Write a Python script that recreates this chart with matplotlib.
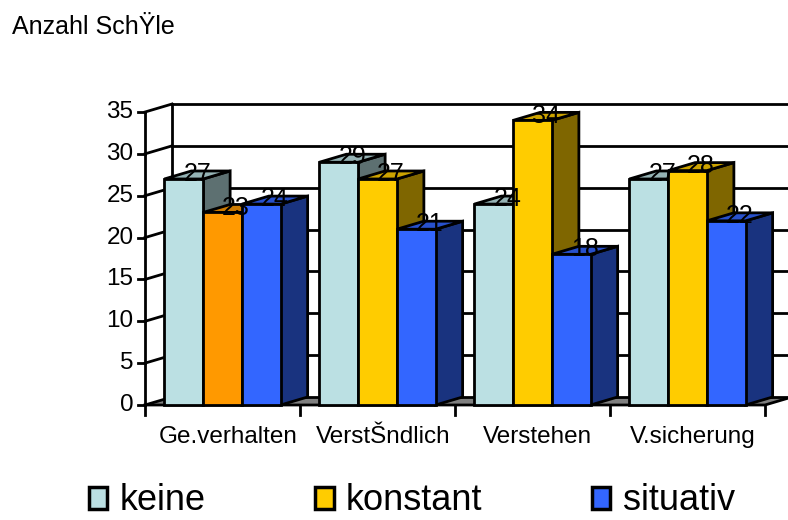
import matplotlib.pyplot as plt
from matplotlib.patches import Polygon, Patch

plt.rcParams['font.family'] = ['Liberation Sans', 'DejaVu Sans']

# data
categories = ["Ge.verhalten", "VerstŠndlich", "Verstehen", "V.sicherung"]
series = ["keine", "konstant", "situativ"]
keine = [27, 29, 24, 27]
konstant = [23, 27, 34, 28]
situativ = [24, 21, 18, 22]
yticks = [0, 5, 10, 15, 20, 25, 30, 35]

values = [keine, konstant, situativ]
colors = [
    ["#BBE0E3"] * 4,
    ["#FF9900", "#FFCC00", "#FFCC00", "#FFCC00"],
    ["#3366FF"] * 4,
]
legend_colors = ["#BBE0E3", "#FFCC00", "#3366FF"]


def shade(c, f):
    c = c.lstrip("#")
    r, g, b = (int(c[i:i + 2], 16) for i in (0, 2, 4))
    return "#%02x%02x%02x" % (int(r * f), int(g * f), int(b * f))


fig = plt.figure(figsize=(7.88, 5.2), dpi=100)
ax = fig.add_axes([0, 0, 1, 1])
ax.set_xlim(-145 / 155, 643 / 155)
ax.set_ylim(-115 / 8.371, 405 / 8.371)
ax.axis("off")

# depth offset of the 3d look (in data units)
dx = 27 / 155
dy = 8 / 8.371
ymax = yticks[-1]
n = len(categories)
lw = 2.0

# floor
ax.add_patch(Polygon([(0, 0), (n, 0), (n + dx, dy), (dx, dy)], closed=True,
                     facecolor="#808080", edgecolor="none", zorder=0.5))
ax.plot([0, n, n + dx], [0, 0, dy], color="black", lw=lw, zorder=1)

# back wall grid + left wall
for t in yticks:
    ax.plot([dx, 4.3], [t + dy, t + dy], color="black", lw=lw, zorder=1)
    ax.plot([0, dx], [t, t + dy], color="black", lw=lw, zorder=1)
    ax.plot([-0.045, 0], [t, t], color="black", lw=lw, zorder=1)
    ax.text(-0.075, t, str(t), ha="right", va="center", fontsize=17.5)
ax.plot([dx, dx], [dy, ymax + dy], color="black", lw=lw, zorder=1)
ax.plot([0, 0], [0, ymax], color="black", lw=lw, zorder=1)
for i in range(n + 1):
    ax.plot([i, i], [0, -1.2], color="black", lw=lw, zorder=1)
for i, c in enumerate(categories):
    ax.text(i + 0.5 + 0.035, -3.8, c, ha="center", va="center", fontsize=17.5)

# bars
w = 0.25
z = 3
for i in range(n):
    for j in range(len(series)):
        v = values[j][i]
        col = colors[j][i]
        x0 = i + 0.125 + j * w
        side = [(x0 + w, 0), (x0 + w + dx, dy), (x0 + w + dx, v + dy), (x0 + w, v)]
        top = [(x0, v), (x0 + w, v), (x0 + w + dx, v + dy), (x0 + dx, v + dy)]
        ax.add_patch(Polygon(side, closed=True, facecolor=shade(col, 0.5),
                             edgecolor="black", lw=lw, zorder=z))
        ax.add_patch(Polygon(top, closed=True, facecolor=shade(col, 0.8),
                             edgecolor="black", lw=lw, zorder=z + 1))
        ax.bar(x0, v, width=w, align="edge", color=col, edgecolor="black",
               lw=lw, zorder=z + 2)
        z += 3

for i in range(n):
    for j in range(len(series)):
        v = values[j][i]
        x0 = i + 0.125 + j * w
        ax.text(x0 + w / 2 + dx / 2, v + dy / 2 + 0.1, str(v), ha="center",
                va="center", fontsize=18, zorder=100)

fig.text(12 / 788, 1 - 27 / 520, "Anzahl SchŸle", ha="left", va="center",
         fontsize=18)

handles = [Patch(facecolor=c, edgecolor="black", lw=2.5) for c in legend_colors]
fig.legend(handles, series, loc="center left",
           bbox_to_anchor=(89 / 788, 1 - 501 / 520), ncol=3, frameon=False,
           fontsize=26, handlelength=0.5, handleheight=0.55,
           handletextpad=0.34, columnspacing=3.05, borderpad=0,
           borderaxespad=0)

fig.savefig("out.png", dpi=100)
